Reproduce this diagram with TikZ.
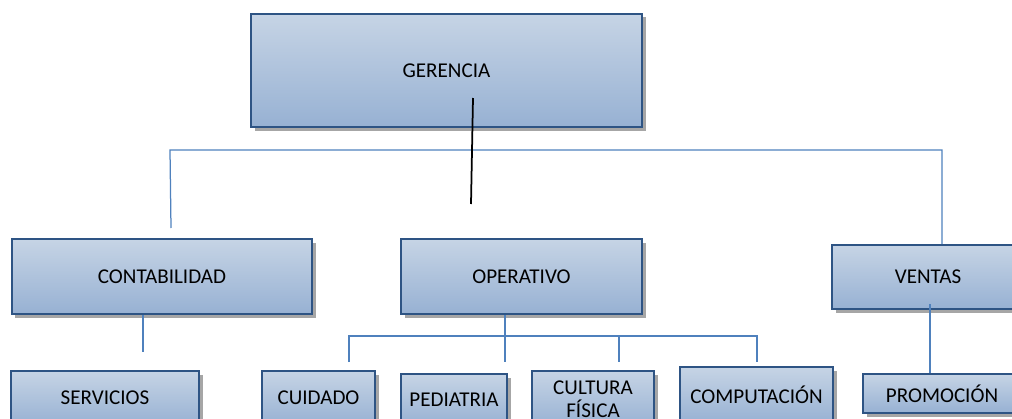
\documentclass[tikz,border=0pt]{standalone}
\usepackage{fontspec}
\setmainfont{Carlito}
\usetikzlibrary{shadows}

\definecolor{boxtop}{HTML}{C6D4E5}
\definecolor{boxbot}{HTML}{97B1D3}
\definecolor{boxline}{HTML}{2E5484}
\definecolor{linkblue}{HTML}{4F81BD}

\tikzset{
  unit/.style={draw=boxline, line width=0.035cm, top color=boxtop, bottom color=boxbot,
    inner sep=0pt, align=center, font=\fontsize{12}{13}\selectfont,
    drop shadow={shadow xshift=0.07cm, shadow yshift=-0.07cm, fill=black, opacity=0.35}},
  link/.style={draw=linkblue, line width=0.025cm}
}

\begin{document}
\begin{tikzpicture}[x=0.02cm, y=-0.02cm]
        % Frame (picture is cut at right and bottom)
        \useasboundingbox (0,0) rectangle (1012,419);
        \clip (0,0) rectangle (1012,419);

        % Top level
        \node[unit, minimum width=391*0.02cm, minimum height=113*0.02cm] (gerencia) at (446.5,70.5) {GERENCIA};

        % Second level
        \node[unit, minimum width=300*0.02cm, minimum height=75*0.02cm] (contab) at (162,276.5) {CONTABILIDAD};
        \node[unit, minimum width=241*0.02cm, minimum height=75*0.02cm] (operat) at (521.5,276.5) {OPERATIVO};
        \node[unit, minimum width=192*0.02cm, minimum height=64*0.02cm] (ventas) at (928,277) {VENTAS};

        % Third level
        \node[unit, minimum width=188*0.02cm, minimum height=54*0.02cm] (servic) at (105,398) {SERVICIOS};
        \node[unit, minimum width=113*0.02cm, minimum height=54*0.02cm] (cuidado) at (318.5,398) {CUIDADO};
        \node[unit, minimum width=106*0.02cm, minimum height=52*0.02cm] (pediat) at (454,400) {PEDIATRIA};
        \node[unit, minimum width=122*0.02cm, minimum height=56*0.02cm] (cultura) at (593,399) {CULTURA\\FÍSICA};
        \node[unit, minimum width=153*0.02cm, minimum height=56*0.02cm] (comput) at (756.5,395) {COMPUTACIÓN};
        \node[unit, minimum width=158*0.02cm, minimum height=39*0.02cm] (promo) at (942,393.5) {PROMOCIÓN};

        % Branch points
        \coordinate (hl) at (170,150);
        \coordinate (hr) at (942,150);
        \coordinate (cl) at (171,228);
        \coordinate (g1) at (473,98);
        \coordinate (g2) at (471,204);
        \coordinate (ca) at (143,352);
        \coordinate (ol) at (349,336);
        \coordinate (or) at (757,336);
        \coordinate (oe) at (505,362);

        % Upper lines
        \draw[link] (cl) -- (hl) -- (hr) -- (ventas.north -| hr);
        \draw[black, line width=0.035cm] (g1) -- (g2);

        % Contabilidad
        \draw[link] (contab.south -| ca) -- (ca);

        % Operativo
        \draw[link] (operat.south -| oe) -- (oe);
        \draw[link] (ol |- oe) -- (ol) -- (or) -- (or |- oe);
        \draw[link] (619,336) -- (619,362);

        % Ventas
        \draw[link] (930,304) -- (promo.north -| 930,0);
\end{tikzpicture}
\end{document}
